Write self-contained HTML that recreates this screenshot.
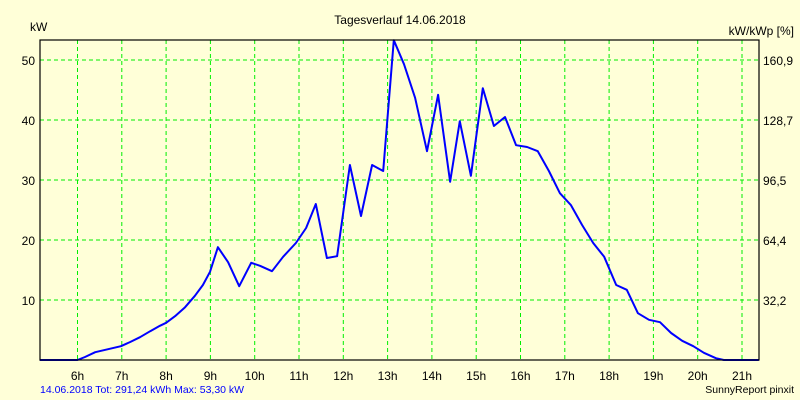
<!DOCTYPE html>
<html><head><meta charset="utf-8"><style>
body{margin:0;background:#ffffd8;}
svg{display:block;font-family:"Liberation Sans",sans-serif;}
</style></head><body>
<svg id="chart" width="800" height="400">
<rect x="0" y="0" width="800" height="400" fill="#ffffd8"/>
<text x="400" y="24" font-size="12" text-anchor="middle">Tagesverlauf 14.06.2018</text>
<text x="30" y="31" font-size="12">kW</text>
<text x="794" y="35" font-size="12" text-anchor="end">kW/kWp [%]</text>
<text x="40" y="393" font-size="10.5" fill="#0000ff">14.06.2018 Tot: 291,24 kWh Max: 53,30 kW</text>
<text x="794" y="393" font-size="10.5" text-anchor="end">SunnyReport pinxit</text>
<g id="grid"></g>
<g id="ticks"></g>
<path id="line" fill="none" stroke="#0000ff" stroke-width="2" stroke-linejoin="round"/>
<rect x="40" y="40" width="719" height="320" fill="none" stroke="#000" stroke-width="1.2"/>
</svg>
<script>
const hours=[5.15,6.0,6.17,6.40,6.69,6.98,7.19,7.41,7.64,7.86,8.0,8.2,8.43,8.65,8.83,8.99,9.17,9.40,9.65,9.92,10.12,10.39,10.64,10.93,11.16,11.38,11.63,11.86,12.15,12.40,12.65,12.90,13.14,13.37,13.62,13.89,14.14,14.41,14.63,14.88,15.15,15.40,15.65,15.90,16.15,16.39,16.64,16.89,17.14,17.39,17.64,17.89,18.16,18.40,18.65,18.90,19.15,19.40,19.65,19.90,20.14,20.41,20.59,21.38];
const power=[0,0,0.5,1.3,1.8,2.3,3.0,3.8,4.8,5.7,6.2,7.3,8.8,10.7,12.5,14.7,18.8,16.3,12.3,16.2,15.7,14.8,17.2,19.5,22,26,17,17.3,32.5,24,32.5,31.5,53.3,49.3,43.7,34.8,44.2,29.7,39.8,30.7,45.3,39,40.5,35.8,35.5,34.8,31.5,27.8,25.8,22.5,19.5,17.2,12.5,11.7,7.8,6.7,6.3,4.5,3.2,2.3,1.2,0.3,0,0];
const xTicks=[6,7,8,9,10,11,12,13,14,15,16,17,18,19,20,21];
const yTicks=[10,20,30,40,50];
const yRightLabels=["32,2","64,4","96,5","128,7","160,9"];
const NS="http://www.w3.org/2000/svg";
const xs=h=>77.5+(h-6)*44.3;
const ys=v=>360-v*6;
const grid=document.getElementById('grid'),ticks=document.getElementById('ticks');
function mk(tag,attrs,parent){const e=document.createElementNS(NS,tag);for(const k in attrs)e.setAttribute(k,attrs[k]);parent.appendChild(e);return e;}
xTicks.forEach(h=>{
  const l=mk('line',{x1:xs(h),x2:xs(h),y1:40,y2:360,stroke:'#00ee00','stroke-dasharray':'4,3'},grid);
  
  
  const t=mk('text',{x:xs(h),y:380,'font-size':12,'text-anchor':'middle'},ticks);
  t.textContent=h+'h';
  
  
});
yTicks.forEach((v,i)=>{
  const l=mk('line',{x1:40,x2:759,y1:ys(v),y2:ys(v),stroke:'#00ee00','stroke-dasharray':'4,3'},grid);
  
  
  const t=mk('text',{x:35,y:ys(v)+5,'font-size':12,'text-anchor':'end'},ticks);
  t.textContent=v;
  
  
  const r=mk('text',{x:763,y:ys(v)+5,'font-size':12},ticks);
  r.textContent=yRightLabels[i];
  
  
});
document.getElementById('line').setAttribute('d',hours.map((h,i)=>(i?'L':'M')+xs(h).toFixed(1)+' '+ys(power[i]).toFixed(1)).join(' '));
</script>
</body></html>
